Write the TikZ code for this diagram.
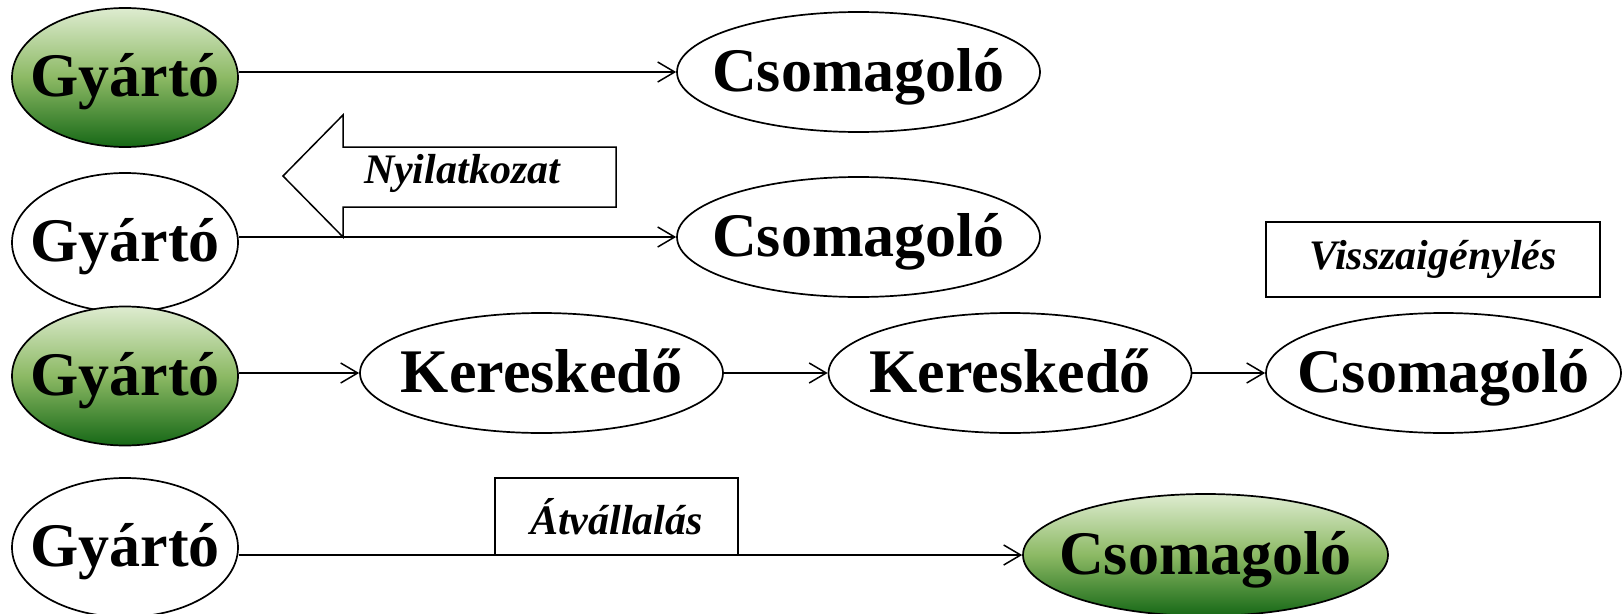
\documentclass[tikz,border=0pt]{standalone}
\usepackage{fontspec}
\setmainfont{Liberation Serif}
\usetikzlibrary{shapes.geometric,arrows.meta}
\definecolor{gtop}{RGB}{222,236,208}
\definecolor{gmid}{RGB}{140,185,100}
\definecolor{gbot}{RGB}{22,104,22}
\begin{document}
\begin{tikzpicture}[x=1pt,y=-1pt,
  ell/.style={ellipse,draw=black,line width=1.7pt,inner xsep=-30pt,inner ysep=0pt,
    text height=44pt,text depth=6pt,
    font=\fontsize{62}{62}\selectfont\bfseries},
  gy/.style={ell,minimum width=226pt,minimum height=139pt},
  cs/.style={ell,minimum width=363pt,minimum height=120pt},
  gfill/.style={top color=gtop,bottom color=gbot,middle color=gmid},
  lbl/.style={draw=black,line width=1.5pt,inner sep=0pt,
    font=\fontsize{42}{42}\selectfont\bfseries\itshape},
  arr/.style={-{Straight Barb[length=17pt,width=20pt,line width=1.5pt]},line width=1.5pt}
]
\useasboundingbox (0,0) rectangle (1622,613);
% row 1
\node[gy,gfill] (g1) at (125,77.5) {Gyártó};
\node[cs] (c1) at (858.5,72) {Csomagoló};
\draw[arr] (g1.east |- c1.west) -- (c1.west);
% row 2
\node[gy] (g2) at (125,242.5) {Gyártó};
\node[cs] (c2) at (858.5,237) {Csomagoló};
\draw[arr] (g2.east |- c2.west) -- (c2.west);
\draw[line width=1.5pt,line join=miter] (283,176) -- (343,115) -- (343,147) -- (616,147)
  -- (616,207) -- (343,207) -- (343,237) -- cycle;
\node[font=\fontsize{42}{42}\selectfont\bfseries\itshape,inner sep=0pt] (nyi) at (462,173) {Nyilatkozat};
% row 3
\node[gy,gfill] (g3) at (125,376) {Gyártó};
\node[cs] (k1) at (541.5,373) {Kereskedő};
\node[cs] (k2) at (1010,373) {Kereskedő};
\node[cs,minimum width=355pt] (c3) at (1443.5,373) {Csomagoló};
\draw[arr] (g3.east |- k1.west) -- (k1.west);
\draw[arr] (k1.east) -- (k2.west);
\draw[arr] (k2.east) -- (c3.west);
\node[lbl,minimum width=334pt,minimum height=75pt] (vis) at (1433,259.5) {Visszaigénylés};
% row 4
\node[gy] (g4) at (125,547.5) {Gyártó};
\node[cs,gfill,minimum width=365pt,minimum height=122pt] (c4) at (1205.5,555) {Csomagoló};
\draw[arr] (g4.east |- c4.west) -- (c4.west);
\node[lbl,minimum width=243pt,minimum height=77pt] (atv) at (616.5,516.5) {Átvállalás};
\end{tikzpicture}
\end{document}
